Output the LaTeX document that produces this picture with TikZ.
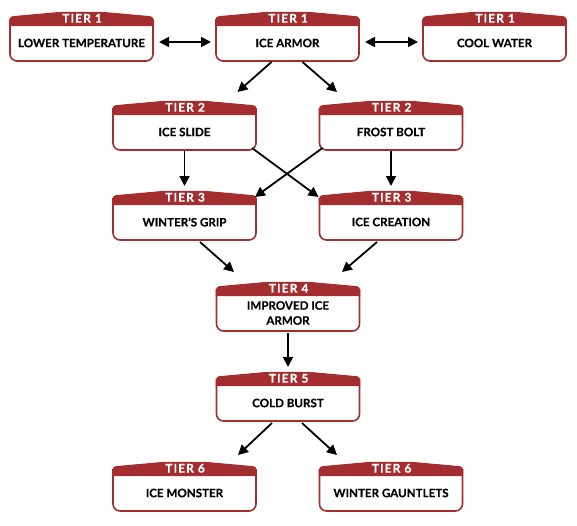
\documentclass[tikz,border=0pt]{standalone}
\usepackage{fontspec}
\setmainfont{Lato}[BoldFeatures={FakeBold=0.4}]
\newfontfamily\tierfont[LetterSpace=9,BoldFeatures={FakeBold=0.7}]{Lato}
\usetikzlibrary{calc,arrows.meta}
\definecolor{tred}{HTML}{A32D2F}
\tikzset{
  boxnode/.style={rectangle, draw=none, minimum width=143pt, minimum height=48pt, inner sep=0pt, outer sep=0pt},
  tiertext/.style={text=white, font=\tierfont\bfseries\fontsize{12}{13}\selectfont, inner sep=0pt},
  labeltext/.style={text=black, font=\bfseries\fontsize{11.6}{15}\selectfont, align=center, inner sep=0pt},
  arr/.style={line width=1.8pt, -{Triangle[length=10pt,width=10pt]}},
  dbl/.style={line width=1.8pt, {Triangle[length=10pt,width=10pt]}-{Triangle[length=10pt,width=10pt]}}
}
\newcommand\tierbox[5]{%
  \node[boxnode] (#1) at (#2, #3+24) {};
  \filldraw[tred, line width=1.2pt] ($(#1.north west)+(0,12.5)$) [rounded corners=3pt] -- ($(#1.north west)+(0,4)$) -- ($(#1.north west)+(50,-0.5)$) -- ($(#1.north east)+(-50,-0.5)$) -- ($(#1.north east)+(0,4)$) [sharp corners] -- ($(#1.north east)+(0,12.5)$) -- cycle;
  \draw[tred, line width=1.6pt, rounded corners=7pt] ($(#1.north west)+(0,6)$) -- (#1.south west) -- (#1.south east) -- ($(#1.north east)+(0,6)$);
  \node[tiertext] at ($(#1.north)+(0.6,5.3)$) {TIER #4};
  \node[labeltext] at ($(#1.north)+(0,30)$) {#5};
}
\begin{document}
\begin{tikzpicture}[x=1pt,y=-1pt]
\useasboundingbox (0,0) rectangle (577,525);
\tierbox{lt}{81.5}{13}{1}{LOWER TEMPERATURE}
\tierbox{ia}{287.5}{13}{1}{ICE ARMOR}
\tierbox{cw}{494.5}{13}{1}{COOL WATER}
\tierbox{is}{184.5}{102}{2}{ICE SLIDE}
\tierbox{fb}{391}{102}{2}{FROST BOLT}
\tierbox{wg}{184.5}{192}{3}{WINTER'S GRIP}
\tierbox{ic}{391}{192}{3}{ICE CREATION}
\tierbox{t4}{288}{283}{4}{IMPROVED ICE\\ARMOR}
\tierbox{t5}{288}{373}{5}{COLD BURST}
\tierbox{im}{184.5}{463}{6}{ICE MONSTER}
\tierbox{wgl}{391}{463}{6}{WINTER GAUNTLETS}

\draw[dbl] ($(lt.east)+(6,5)$) -- ($(ia.west)+(-5,5)$);
\draw[dbl] ($(ia.east)+(6,5)$) -- ($(cw.west)+(-5,5)$);
\draw[arr] ($(ia.south)+(-16,1)$) -- ($(is.north)+(53,-10)$);
\draw[arr] ($(ia.south)+(15,1)$) -- ($(fb.north)+(-54,-10)$);
\draw[arr] ($(is.south)+(0,1)$) -- ($(wg.north)+(0,-6)$);
\draw[arr] ($(fb.south)+(0,1)$) -- ($(ic.north)+(0,-6)$);
\draw[arr] ($(is.south east)+(-4,-2)$) -- ($(ic.north west)+(-1,5)$);
\draw[arr] ($(fb.south west)+(3,-2)$) -- ($(wg.north east)+(-1,5)$);
\draw[arr] ($(wg.south)+(15.5,2)$) -- ($(t4.north)+(-54,-11)$);
\draw[arr] ($(ic.south)+(-14,2)$) -- ($(t4.north)+(54,-11)$);
\draw[arr] ($(t4.south)+(0,2)$) -- ($(t5.north)+(0,-6)$);
\draw[arr] ($(t5.south)+(-16,2)$) -- ($(im.north)+(53.5,-8)$);
\draw[arr] ($(t5.south)+(14,2)$) -- ($(wgl.north)+(-54,-8)$);
\end{tikzpicture}
\end{document}
